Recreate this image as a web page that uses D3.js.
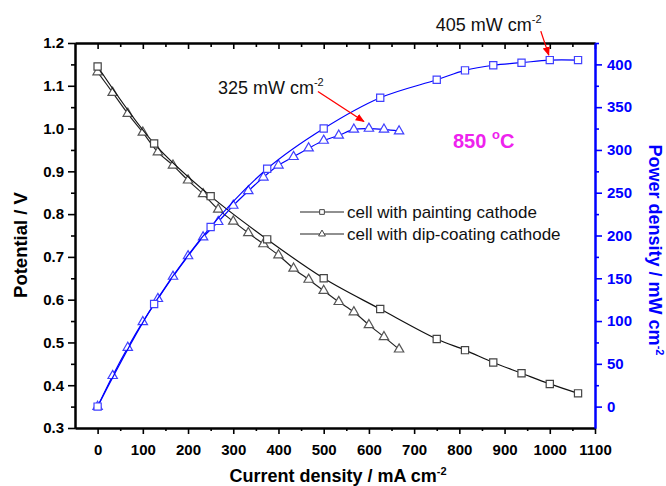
<!DOCTYPE html>
<meta charset="utf-8">
<body>
<script src="https://cdn.jsdelivr.net/npm/d3@7"></script>
<style>
    html, body {
        margin: 0;
        background: #fff;
    }
    text {
        font-family: "Liberation Sans", Arial, sans-serif;
    }
</style>
<script>
// cell with painting cathode
var currentPaint = [0, 125, 250, 375, 500, 625, 750, 812.5, 875, 937.5, 1000, 1062.5],
    voltPaint = [1.145, 0.965, 0.842, 0.741, 0.650, 0.578, 0.508, 0.482, 0.453, 0.428, 0.403, 0.381],
    powerPaint = [0, 120, 210, 278, 325, 361, 382, 393, 399, 402, 405, 405];

// cell with dip-coating cathode
var currentDip = [0, 33.3, 66.7, 100, 133.3, 166.7, 200, 233.3, 266.7, 300, 333.3,
                  366.7, 400, 433.3, 466.7, 500, 533.3, 566.7, 600, 633.3, 666.7],
    voltDip = [1.132, 1.084, 1.035, 0.991, 0.945, 0.914, 0.879, 0.847, 0.811, 0.783, 0.756,
               0.730, 0.704, 0.673, 0.647, 0.621, 0.595, 0.571, 0.541, 0.513, 0.484],
    powerDip = [0, 36, 69, 99, 126, 152, 176, 198, 216, 235, 252,
                268, 282, 292, 302, 311, 317, 324, 325, 324, 322];

var xTicks = d3.range(0, 1101, 100),
    vTicks = d3.range(3, 13).map(function(d) { return d / 10; }),
    pTicks = d3.range(0, 401, 50);

var legendLabels = ["cell with painting cathode", "cell with dip-coating cathode"];

var width = 666,
    height = 486,
    pl = 75, pr = 595, pt = 43, pb = 428,
    blue = "#0000ff";

var svg = d3.select("body").append("svg")
    .attr("width", width)
    .attr("height", height);

var x = d3.scaleLinear().domain([-50, 1100]).range([pl, pr]),
    yV = d3.scaleLinear().domain([0.3, 1.2]).range([pb, pt]),
    yP = d3.scaleLinear().domain([-25, 425]).range([pb, pt]);

function styleAxis(g, color) {
    g.select(".domain").attr("stroke", color).attr("stroke-width", 2);
    g.selectAll(".tick line").attr("stroke", color).attr("stroke-width", 1.6);
    g.selectAll(".tick text")
        .attr("fill", color)
        .style("font-size", "15px")
        .style("font-weight", "bold");
}

// bottom axis
svg.append("g").attr("transform", "translate(0," + pb + ")")
    .call(d3.axisBottom(x).tickValues(d3.range(50, 1100, 100)).tickSize(3).tickSizeOuter(0).tickFormat(""))
    .call(styleAxis, "#000");
svg.append("g").attr("transform", "translate(0," + pb + ")")
    .call(d3.axisBottom(x).tickValues(xTicks).tickSize(6).tickSizeOuter(0).tickPadding(10).tickFormat(d3.format("d")))
    .call(styleAxis, "#000");

// top axis, ticks inward
svg.append("g").attr("transform", "translate(0," + pt + ")")
    .call(d3.axisTop(x).tickValues(d3.range(50, 1100, 100)).tickSize(-4).tickSizeOuter(0).tickFormat(""))
    .call(styleAxis, "#000");
svg.append("g").attr("transform", "translate(0," + pt + ")")
    .call(d3.axisTop(x).tickValues(xTicks).tickSize(-6).tickSizeOuter(0).tickFormat(""))
    .call(styleAxis, "#000");

// left axis
svg.append("g").attr("transform", "translate(" + pl + ",0)")
    .call(d3.axisLeft(yV).tickValues(vTicks.slice(0, -1).map(function(d) { return d + 0.05; }))
        .tickSize(4).tickSizeOuter(0).tickFormat(""))
    .call(styleAxis, "#000");
svg.append("g").attr("transform", "translate(" + pl + ",0)")
    .call(d3.axisLeft(yV).tickValues(vTicks).tickSize(7).tickSizeOuter(0).tickFormat(d3.format(".1f")).tickPadding(4))
    .call(styleAxis, "#000");

// right axis
svg.append("g").attr("transform", "translate(" + pr + ",0)")
    .call(d3.axisRight(yP).tickValues(pTicks.map(function(d) { return d + 25; }))
        .tickSize(4).tickSizeOuter(0).tickFormat(""))
    .call(styleAxis, blue);
svg.append("g").attr("transform", "translate(" + pr + ",0)")
    .call(d3.axisRight(yP).tickValues(pTicks).tickSize(7).tickSizeOuter(0).tickPadding(5))
    .call(styleAxis, blue);

// axis titles
svg.append("text")
    .attr("transform", "translate(20,245)rotate(-90)")
    .attr("text-anchor", "middle")
    .attr("dominant-baseline", "central")
    .style("font-size", "18.5px").style("font-weight", "bold")
    .text("Potential / V");

var xt = svg.append("text")
    .attr("x", 338).attr("y", 482)
    .attr("text-anchor", "middle")
    .style("font-size", "18px").style("font-weight", "bold")
    .text("Current density / mA cm");
xt.append("tspan").attr("dy", -7).style("font-size", "11px").text("-2");

var rt = svg.append("text")
    .attr("transform", "translate(649,250)rotate(90)")
    .attr("text-anchor", "middle")
    .attr("fill", blue)
    .style("font-size", "18px").style("font-weight", "bold")
    .text("Power density / mW cm");
rt.append("tspan").attr("dy", -7).style("font-size", "11px").text("-2");

// series
function series(cur, val, yScale, lineColor, markColor, symbol, size) {
    var pts = cur.map(function(c, i) { return [x(c), yScale(val[i])]; });
    svg.append("path")
        .attr("d", d3.line().curve(d3.curveCatmullRom)(pts))
        .attr("fill", "none")
        .attr("stroke", lineColor)
        .attr("stroke-width", 1.2);
    svg.append("g").selectAll("path")
        .data(pts)
        .enter().append("path")
        .attr("transform", function(d) { return "translate(" + d + ")"; })
        .attr("d", d3.symbol().type(symbol).size(size))
        .attr("fill", "#fff")
        .attr("stroke", markColor)
        .attr("stroke-width", 1.2);
}

series(currentDip, voltDip, yV, "#222", "#555", d3.symbolTriangle, 38);
series(currentPaint, voltPaint, yV, "#111", "#444", d3.symbolSquare, 52);
series(currentDip, powerDip, yP, blue, "#4040ff", d3.symbolTriangle, 38);
series(currentPaint, powerPaint, yP, blue, "#4040ff", d3.symbolSquare, 52);

// legend
var legend = svg.append("g").attr("transform", "translate(300,212)");
legendLabels.forEach(function(label, i) {
    var row = legend.append("g").attr("transform", "translate(0," + i * 22 + ")");
    row.append("line").attr("x1", 0).attr("x2", 44).attr("stroke", "#222").attr("stroke-width", 1.2);
    row.append("path")
        .attr("transform", "translate(22,0)")
        .attr("d", d3.symbol().type(i ? d3.symbolTriangle : d3.symbolSquare).size(i ? 20 : 22))
        .attr("fill", "#fff").attr("stroke", "#444");
    row.append("text")
        .attr("x", 47).attr("dy", "0.35em")
        .style("font-size", "17px")
        .attr("fill", "#111")
        .text(label);
});

// annotations
svg.append("defs").append("marker")
    .attr("id", "arrow")
    .attr("viewBox", "0 0 10 10")
    .attr("refX", 9).attr("refY", 5)
    .attr("markerWidth", 7).attr("markerHeight", 7)
    .attr("orient", "auto")
    .append("path").attr("d", "M0,1L10,5L0,9z").attr("fill", "#ff0000");

function annotate(cx, cy, label, tx, ty, sx, sy, ex, ey) {
    var px = x(cx), py = yP(cy);
    var t = svg.append("text")
        .attr("x", px + tx).attr("y", py + ty)
        .style("font-size", "18px")
        .attr("fill", "#111")
        .text(label);
    t.append("tspan").attr("dy", -8).style("font-size", "11px").text("-2");
    svg.append("line")
        .attr("x1", px + sx).attr("y1", py + sy)
        .attr("x2", px + ex).attr("y2", py + ey)
        .attr("stroke", "#ff0000").attr("stroke-width", 1.3)
        .attr("marker-end", "url(#arrow)");
}

annotate(currentDip[18], powerDip[18], "325 mW cm", -151, -35, -51, -37, -5, -7);
annotate(currentPaint[10], powerPaint[10], "405 mW cm", -114, -29, -9, -29, -1, -5);

var temp = svg.append("text")
    .attr("x", 453).attr("y", 148)
    .attr("fill", "#ee22ee")
    .style("font-size", "20px").style("font-weight", "bold")
    .text("850 ");
temp.append("tspan").attr("dy", -9).style("font-size", "13px").text("o");
temp.append("tspan").attr("dy", 9).text("C");
</script>
